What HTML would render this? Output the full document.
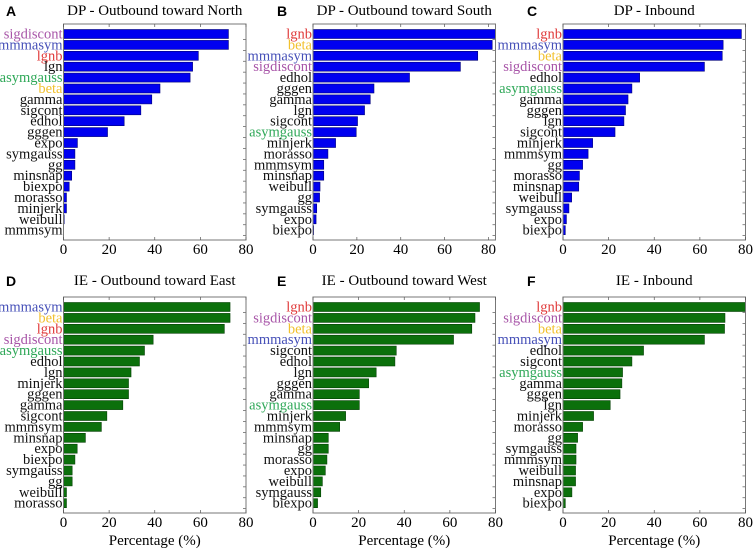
<!DOCTYPE html>
<html><head><meta charset="utf-8"><style>
html,body{margin:0;padding:0;background:#fff;}
svg{display:block;}
text{font-family:"Liberation Serif",serif;}
</style></head><body>
<svg id="fig" width="756" height="550" viewBox="0 0 756 550" xmlns="http://www.w3.org/2000/svg"></svg>
<script>
const catsA=["sigdiscont","mmmasym","lgnb","lgn","asymgauss","beta","gamma","sigcont","edhol","gggen","expo","symgauss","gg","minsnap","biexpo","morasso","minjerk","weibull","mmmsym"];
const valsA=[72.3,72.3,59.1,56.6,55.5,42.3,38.7,33.9,26.6,19.3,6.1,5,5,3.6,2.5,1.3,1.3,0.3,0];
const catsB=["lgnb","beta","mmmasym","sigdiscont","edhol","gggen","gamma","lgn","sigcont","asymgauss","minjerk","morasso","mmmsym","minsnap","weibull","gg","symgauss","expo","biexpo"];
const valsB=[83.2,81.7,75.1,67.2,44,27.8,26.1,23.5,20.3,19.7,10.3,6.8,4.9,4.9,3.2,3,1.7,1.4,0.3];
const catsC=["lgnb","mmmasym","beta","sigdiscont","edhol","asymgauss","gamma","gggen","lgn","sigcont","minjerk","mmmsym","gg","morasso","minsnap","weibull","symgauss","expo","biexpo"];
const valsC=[78.2,70.2,69.8,62,33.6,30.2,28.5,27.4,26.7,22.8,13,11,8.6,7.2,6.9,3.8,2.6,1.5,1];
const catsD=["mmmasym","beta","lgnb","sigdiscont","asymgauss","edhol","lgn","minjerk","gggen","gamma","sigcont","mmmsym","minsnap","expo","biexpo","symgauss","gg","weibull","morasso"];
const valsD=[73,73,70.5,39.3,35.5,33.3,29.6,28.5,28.5,26,19,16.6,9.6,6,5,3.8,3.8,1.3,1.3];
const catsE=["lgnb","sigdiscont","beta","mmmasym","sigcont","edhol","lgn","gggen","gamma","asymgauss","minjerk","mmmsym","minsnap","gg","morasso","expo","weibull","symgauss","biexpo"];
const valsE=[73,71,69.6,61.6,36.5,35.9,27.7,24.4,20.3,20.3,14.3,11.7,6.7,6.7,6.1,5.4,4.1,3.4,2];
const catsF=["lgnb","sigdiscont","beta","mmmasym","edhol","sigcont","asymgauss","gamma","gggen","lgn","minjerk","morasso","gg","symgauss","mmmsym","weibull","minsnap","expo","biexpo"];
const valsF=[80,71,70.8,62,35.3,30.2,26.1,25.8,25,20.7,13.4,8.6,6.4,5.7,5.7,5.5,5.5,3.9,1];
const ticks=[0,20,40,60,80];
const titles=["DP - Outbound toward North","DP - Outbound toward South","DP - Inbound","IE - Outbound toward East","IE - Outbound toward West","IE - Inbound"];
const letters=["A","B","C","D","E","F"];
const xmaxs=[80,83.2,80,80,80,80];

const labelColor={sigdiscont:"#a855a8",mmmasym:"#4650b8",lgnb:"#e03a3a",asymgauss:"#2fa858",beta:"#f2c12e"};
const NS="http://www.w3.org/2000/svg";
const svg=document.getElementById("fig");
function mk(tag,attrs,parent,txt){const e=document.createElementNS(NS,tag);for(const k in attrs)e.setAttribute(k,attrs[k]);if(txt!==undefined)e.textContent=txt;parent.appendChild(e);return e;}

const panels=[[catsA,valsA],[catsB,valsB],[catsC,valsC],[catsD,valsD],[catsE,valsE],[catsF,valsF]];
const lefts=[63.5,313,563];
panels.forEach((p,pi)=>{
  const cats=p[0],vals=p[1];
  const col=pi%3,row=Math.floor(pi/3);
  const L=lefts[col],W=182.5,T=row?297:24,H=216;
  const xmax=xmaxs[pi];
  const sx=v=>L+v/xmax*W;
  const step=10.9;
  const cy=i=>T+10+i*step;
  const g=mk("g",{},svg);
  
  
  const t=mk("text",{x:L+W/2,y:row?285:15,"text-anchor":"middle","font-size":"15"},g,titles[pi]);
  
  
  const lt=mk("text",{x:col==0?6:(col==1?277:527),y:row?286:16,"font-size":"14","font-weight":"bold",style:"font-family:'Liberation Sans',sans-serif"},g,letters[pi]);
  
  
  const isG=row==1;
  cats.forEach((c,i)=>{
    const w=sx(vals[i])-L;
    if(w>0.2){
      const r=mk("rect",{x:L,y:cy(i)-4.5,width:w,height:9,fill:isG?"#0b700b":"#0000f0",stroke:isG?"#044004":"#00007a","stroke-width":"0.6"},g);
      
      
    }
    const tl=mk("text",{x:L-1,y:cy(i)+4.5,"text-anchor":"end","font-size":"14.5",fill:labelColor[c]||"#111"},g,c);
    
    
    mk("line",{x1:L+W-3,x2:L+W,y1:cy(i)+step/2,y2:cy(i)+step/2,stroke:"#555","stroke-width":"0.7"},g);
  });
  const box=mk("rect",{x:L,y:T,width:W,height:H,fill:"none",stroke:"#777","stroke-width":"1"},g);
  
  
  ticks.forEach(v=>{
    if(v>xmax)return;
    const x=sx(v);
    mk("line",{x1:x,x2:x,y1:T+H,y2:T+H-3,stroke:"#555","stroke-width":"0.7"},g);
    mk("line",{x1:x,x2:x,y1:T,y2:T+3,stroke:"#555","stroke-width":"0.7"},g);
    const tt=mk("text",{x:x,y:T+H+14,"text-anchor":"middle","font-size":"15"},g,String(v));
    
    
  });
  if(isG){
    const xl=mk("text",{x:L+W/2,y:545,"text-anchor":"middle","font-size":"15"},g,"Percentage (%)");
    
    
  }
});
</script>
</body></html>
